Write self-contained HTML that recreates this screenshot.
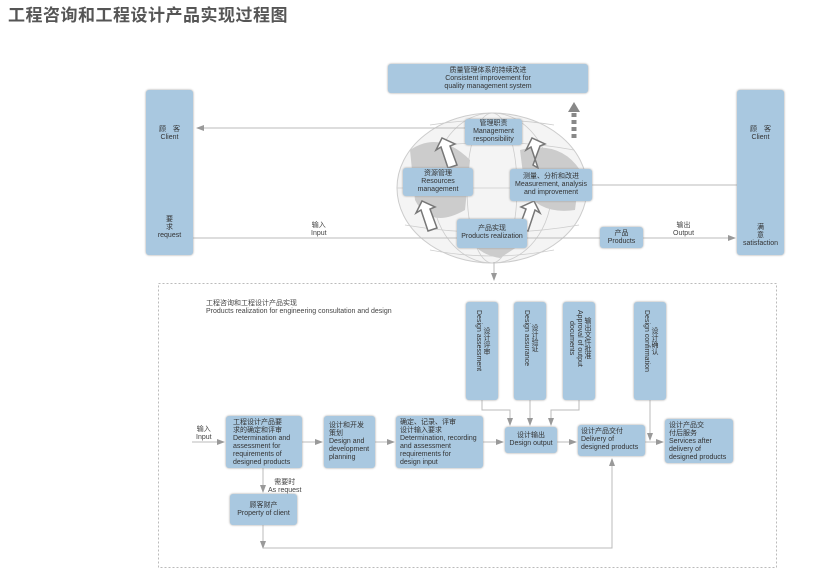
<!DOCTYPE html>
<html><head><meta charset="utf-8"><style>
body{margin:0;width:815px;height:570px;background:#fff;position:relative;overflow:hidden;font-family:"Liberation Sans","Noto Sans CJK SC",sans-serif;color:#333}
.b{position:absolute;background:#a9c8e0;border-radius:3px;box-shadow:0 0 2px #999;font-size:7px;line-height:8px;text-align:center;color:#333;box-sizing:border-box}
.t{position:absolute;font-size:7px;line-height:8px;color:#444}
.v{writing-mode:vertical-rl;display:flex;align-items:center;justify-content:flex-start;padding-top:8px}
</style></head><body>
<div style="position:absolute;left:8px;top:1px;font-size:17px;font-weight:bold;color:#555;letter-spacing:0.5px">工程咨询和工程设计产品实现过程图</div>

<svg width="815" height="570" style="position:absolute;left:0;top:0">
<defs><marker id="a" markerWidth="8" markerHeight="6" refX="7" refY="3" orient="auto"><path d="M0,0L8,3L0,6z" fill="#999"/></marker></defs>
<g stroke="#ccc" fill="#eee">
<ellipse cx="492" cy="188" rx="95" ry="75" fill="#f4f4f4"/>
</g>
<g stroke="#ccc" fill="none" stroke-width="0.8">
<ellipse cx="492" cy="188" rx="60" ry="75"/><ellipse cx="492" cy="188" rx="25" ry="75"/>
<line x1="397" y1="188" x2="587" y2="188"/><path d="M410 150Q492 135 574 150M405 225Q492 240 579 225M430 125Q492 115 554 125M430 250Q492 262 554 250"/>
</g>
<g fill="#ccc"><path d="M410 150Q440 130 470 160L465 210Q430 230 415 200z"/><path d="M520 150Q560 140 580 170L575 210Q540 215 525 190z"/><path d="M470 230Q500 225 520 245L500 258Q480 255 470 240z"/></g>
<g fill="#fff" stroke="#777" stroke-width="1.5">
<path d="M428 231L421 210L416 213L422 201L435 207L430 209L437 228z"/>
<path d="M448 168L441 147L436 150L442 138L455 144L450 146L457 165z"/>
<path d="M528 231L535 210L540 213L534 201L521 207L526 209L519 228z"/>
<path d="M538 168L531 147L526 150L532 138L545 144L540 146L533 165z"/>
</g>
<path d="M568 112L574 102L580 112z" fill="#888"/>
<g stroke="#888" stroke-width="5" stroke-dasharray="4,3"><line x1="574" y1="113" x2="574" y2="140"/></g>
<g stroke="#bbb" stroke-width="1" fill="none" marker-end="url(#a)">
<line x1="465" y1="128" x2="197" y2="128"/>
<line x1="643" y1="238" x2="735" y2="238"/>
<line x1="494" y1="262" x2="494" y2="280"/>
<line x1="192" y1="442" x2="224" y2="442"/>
<line x1="302" y1="442" x2="322" y2="442"/>
<line x1="375" y1="442" x2="394" y2="442"/>
<line x1="483" y1="442" x2="503" y2="442"/>
<line x1="557" y1="442" x2="576" y2="442"/>
<line x1="645" y1="442" x2="663" y2="442"/>
<line x1="263" y1="468" x2="263" y2="492"/>
<line x1="263" y1="525" x2="263" y2="548"/>
<polyline points="482,400 482,410 510,410 510,425"/>
<line x1="530" y1="400" x2="530" y2="425"/>
<polyline points="579,400 579,410 551,410 551,425"/>
<line x1="650" y1="400" x2="650" y2="440"/>
<polyline points="263,548 612,548 612,459"/>
</g>
<g stroke="#bbb"><line x1="193" y1="238" x2="457" y2="238"/><line x1="527" y1="238" x2="600" y2="238"/><line x1="592" y1="185" x2="737" y2="185"/></g>
<rect x="158.5" y="283.5" width="618" height="284" fill="none" stroke="#bbb" stroke-dasharray="2,2"/>
</svg>

<div class="b" style="left:388px;top:64px;width:200px;height:29px;padding-top:3px">质量管理体系的持续改进<br>Consistent improvement for<br>quality management system</div>
<div class="b" style="left:146px;top:90px;width:47px;height:165px"><div style="position:absolute;top:36px;width:100%">顾　客<br>Client</div><div style="position:absolute;top:126px;width:100%">要<br>求<br>request</div></div>
<div class="b" style="left:737px;top:90px;width:47px;height:165px"><div style="position:absolute;top:36px;width:100%">顾　客<br>Client</div><div style="position:absolute;top:134px;width:100%">满<br>意<br>satisfaction</div></div>
<div class="b" style="left:465px;top:119px;width:57px;height:26px;padding-top:1px">管理职责<br>Management<br>responsibility</div>
<div class="b" style="left:403px;top:168px;width:70px;height:28px;padding-top:2px">资源管理<br>Resources<br>management</div>
<div class="b" style="left:510px;top:169px;width:82px;height:32px;padding-top:4px">测量、分析和改进<br>Measurement, analysis<br>and improvement</div>
<div class="b" style="left:457px;top:219px;width:70px;height:29px;padding-top:6px">产品实现<br>Products realization</div>
<div class="b" style="left:600px;top:227px;width:43px;height:21px;padding-top:3px">产品<br>Products</div>
<div class="t" style="left:311px;top:222px;text-align:center">输入<br>Input</div>
<div class="t" style="left:673px;top:222px;text-align:center">输出<br>Output</div>

<div class="t" style="left:206px;top:300px">工程咨询和工程设计产品实现<br>Products realization for engineering consultation and design</div>
<div class="b v" style="left:466px;top:302px;width:32px;height:98px">设计评审<br>Design assessment</div>
<div class="b v" style="left:514px;top:302px;width:32px;height:98px">设计验证<br>Design assurance</div>
<div class="b v" style="left:563px;top:302px;width:32px;height:98px">输出文件批准<br>Approval of output<br>documents</div>
<div class="b v" style="left:634px;top:302px;width:32px;height:98px">设计确认<br>Design confirmation</div>

<div class="t" style="left:196px;top:426px;text-align:center">输入<br>Input</div>
<div class="b" style="left:226px;top:416px;width:76px;height:52px;text-align:left;padding:3px 0 0 7px">工程设计产品要<br>求的确定和评审<br>Determination and<br>assessment for<br>requirements of<br>designed products</div>
<div class="b" style="left:324px;top:416px;width:51px;height:52px;text-align:left;padding:6px 0 0 5px">设计和开发<br>策划<br>Design and<br>development<br>planning</div>
<div class="b" style="left:396px;top:416px;width:87px;height:52px;text-align:left;padding:3px 0 0 4px">确定、记录、评审<br>设计输入要求<br>Determination, recording<br>and assessment<br>requirements for<br>design input</div>
<div class="b" style="left:505px;top:427px;width:52px;height:26px;padding-top:5px">设计输出<br>Design output</div>
<div class="b" style="left:578px;top:425px;width:67px;height:31px;text-align:left;padding:3px 0 0 3px">设计产品交付<br>Delivery of<br>designed products</div>
<div class="b" style="left:665px;top:419px;width:68px;height:44px;text-align:left;padding:3px 0 0 4px">设计产品交<br>付后服务<br>Services after<br>delivery of<br>designed products</div>
<div class="t" style="left:268px;top:479px;text-align:center">需要时<br>As request</div>
<div class="b" style="left:230px;top:494px;width:67px;height:31px;padding-top:8px">顾客财产<br>Property of client</div>
</body></html>
